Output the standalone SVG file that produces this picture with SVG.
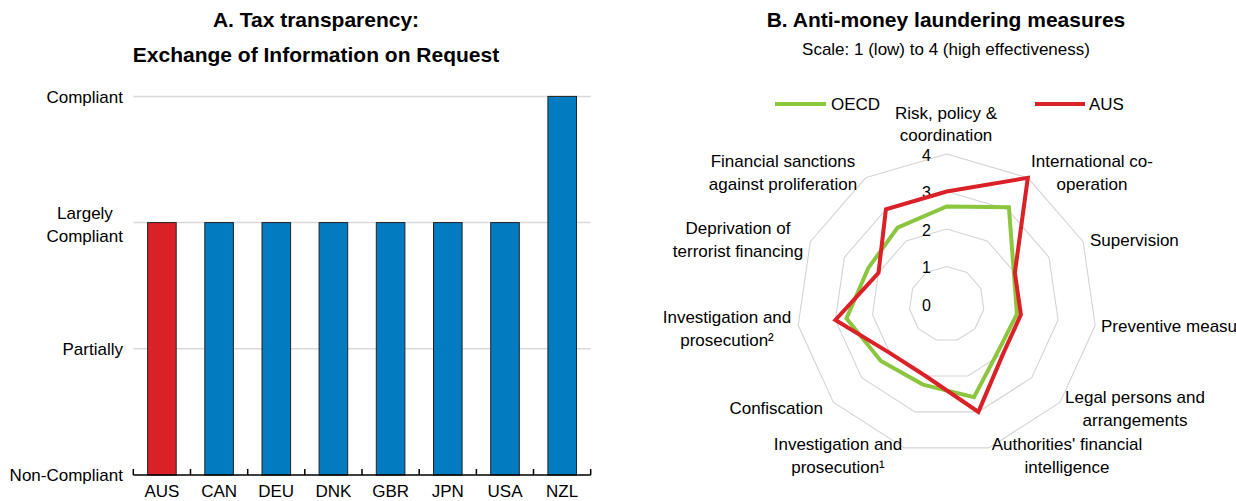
<svg xmlns="http://www.w3.org/2000/svg" width="1236" height="501" viewBox="0 0 1236 501">
<style>
text{font-family:"Liberation Sans",Arial,sans-serif;fill:#000}
.t{font-size:21px;font-weight:bold;text-anchor:middle}
.l{font-size:17px}
.m{text-anchor:middle}
.e{text-anchor:end}
.n{font-size:16px;text-anchor:end}
.grid{stroke:#d9d9d9;stroke-width:1.5;fill:none}
.ring{stroke:#d4d4d4;stroke-width:1.1;fill:none}
.bar{stroke:#222;stroke-width:1}
.blue{fill:#037BC1}
.red{fill:#DA2128}
.aus{stroke:#DA2128;stroke-width:4;fill:none;stroke-linejoin:miter}
.oecd{stroke:#8CC63F;stroke-width:4;fill:none;stroke-linejoin:miter}
</style>
<rect width="1236" height="501" fill="#fff"/>
<!-- Panel A -->
<g id="panelA">
<g id="titleA">
<text class="t" x="316" y="27">A. Tax transparency:</text>
<text class="t" x="316" y="62">Exchange of Information on Request</text>
</g>
<g id="gridA">
<line class="grid" x1="133.3" y1="96.4" x2="590.7" y2="96.4"/>
<line class="grid" x1="133.3" y1="222.6" x2="590.7" y2="222.6"/>
<line class="grid" x1="133.3" y1="348.8" x2="590.7" y2="348.8"/>
</g>
<g id="yaxisA" class="l">
<text class="e" x="123" y="103">Compliant</text>
<text class="m" x="85" y="219">Largely</text>
<text class="e" x="123" y="242">Compliant</text>
<text class="e" x="123" y="355">Partially</text>
<text class="e" x="123" y="481">Non-Compliant</text>
</g>
<g id="bars">
<rect id="bar-AUS" class="bar red" x="147.6" y="222.6" width="28.6" height="252.4"/>
<rect id="bar-CAN" class="bar blue" x="204.8" y="222.6" width="28.6" height="252.4"/>
<rect id="bar-DEU" class="bar blue" x="262.0" y="222.6" width="28.6" height="252.4"/>
<rect id="bar-DNK" class="bar blue" x="319.1" y="222.6" width="28.6" height="252.4"/>
<rect id="bar-GBR" class="bar blue" x="376.3" y="222.6" width="28.6" height="252.4"/>
<rect id="bar-JPN" class="bar blue" x="433.5" y="222.6" width="28.6" height="252.4"/>
<rect id="bar-USA" class="bar blue" x="490.7" y="222.6" width="28.6" height="252.4"/>
<rect id="bar-NZL" class="bar blue" x="547.9" y="96.4" width="28.6" height="378.6"/>
</g>
<g id="xaxisA" stroke="#000" stroke-width="1.5" fill="none">
<path d="M133.3 475H590.7M133.3 469V475M190.5 469V475M247.7 469V475M304.8 469V475M362 469V475M419.2 469V475M476.4 469V475M533.5 469V475M590.7 469V475"/>
</g>
<g id="xlabelsA" class="l">
<text class="m" x="161.9" y="497">AUS</text>
<text class="m" x="219.1" y="497">CAN</text>
<text class="m" x="276.2" y="497">DEU</text>
<text class="m" x="333.4" y="497">DNK</text>
<text class="m" x="390.6" y="497">GBR</text>
<text class="m" x="447.8" y="497">JPN</text>
<text class="m" x="505.0" y="497">USA</text>
<text class="m" x="562.1" y="497">NZL</text>
</g>
</g>
<!-- Panel B -->
<g id="panelB">
<g id="titleB">
<text class="t" x="946" y="27">B. Anti-money laundering measures</text>
<text class="l m" x="946" y="55">Scale: 1 (low) to 4 (high effectiveness)</text>
</g>
<g id="rings">
<polygon class="ring" points="946.7,154 1027.8,177.8 1083.1,241.7 1095.2,325.3 1060.1,402.2 989,447.9 904.4,447.9 833.3,402.2 798.2,325.3 810.3,241.7 865.6,177.8"/>
<polygon class="ring" points="946.7,191.5 1007.5,209.4 1049,257.3 1058.1,320 1031.7,377.7 978.4,411.9 915,411.9 861.7,377.7 835.4,320 844.4,257.3 885.9,209.4"/>
<polygon class="ring" points="946.7,229 987.2,240.9 1014.9,272.8 1020.9,314.7 1003.4,353.1 967.8,376 925.6,376 890,353.1 872.5,314.7 878.5,272.8 906.1,240.9"/>
<polygon class="ring" points="946.7,266.5 967,272.5 980.8,288.4 983.8,309.3 975,328.6 957.3,340 936.1,340 918.4,328.6 909.6,309.3 912.6,288.4 926.4,272.5"/>
</g>
<g id="scale">
<text class="n" x="931" y="160.5">4</text>
<text class="n" x="931" y="198">3</text>
<text class="n" x="931" y="235.5">2</text>
<text class="n" x="931" y="273">1</text>
<text class="n" x="931" y="310.5">0</text>
</g>
<g id="series">
<polygon id="series-OECD" class="oecd" points="946.7,206.5 1008.9,207.2 1013.9,273.3 1016.9,314.1 999.1,349.4 974,397.1 923,384.6 880.9,361 846.5,318.4 868.2,268.2 897.6,227.7"/>
<polygon id="series-AUS" class="aus" points="946.7,191.5 1027.8,177.8 1014.9,272.8 1020.9,314.7 1003.4,353.1 978.4,411.9 925.6,376 890,353.1 835.4,320 878.5,272.8 885.9,209.4"/>
</g>
<g id="legend">
<line x1="775" y1="104" x2="826" y2="104" stroke="#8CC63F" stroke-width="4"/>
<text class="l" x="831" y="110">OECD</text>
<line x1="1035" y1="104" x2="1085" y2="104" stroke="#DA2128" stroke-width="4"/>
<text class="l" x="1089" y="110">AUS</text>
</g>
<g id="axis-labels" class="l">
<g id="lab-risk"><text class="m" x="946" y="119">Risk, policy &amp;</text><text class="m" x="946" y="141">coordination</text></g>
<g id="lab-intl"><text class="m" x="1092" y="167">International co-</text><text class="m" x="1092" y="190">operation</text></g>
<g id="lab-sup"><text x="1090" y="246">Supervision</text></g>
<g id="lab-prev"><text x="1101" y="332">Preventive measu</text></g>
<g id="lab-legal"><text class="m" x="1135" y="403">Legal persons and</text><text class="m" x="1135" y="426">arrangements</text></g>
<g id="lab-fiu"><text class="m" x="1067" y="450">Authorities' financial</text><text class="m" x="1067" y="473">intelligence</text></g>
<g id="lab-inv1"><text class="m" x="838" y="450">Investigation and</text><text class="m" x="838" y="473">prosecution¹</text></g>
<g id="lab-conf"><text class="e" x="823" y="414">Confiscation</text></g>
<g id="lab-inv2"><text class="m" x="727" y="323">Investigation and</text><text class="m" x="727" y="346">prosecution²</text></g>
<g id="lab-terr"><text class="m" x="738" y="234">Deprivation of</text><text class="m" x="738" y="257">terrorist financing</text></g>
<g id="lab-fin"><text class="m" x="783" y="167">Financial sanctions</text><text class="m" x="783" y="190">against proliferation</text></g>
</g>
</g>
</svg>
